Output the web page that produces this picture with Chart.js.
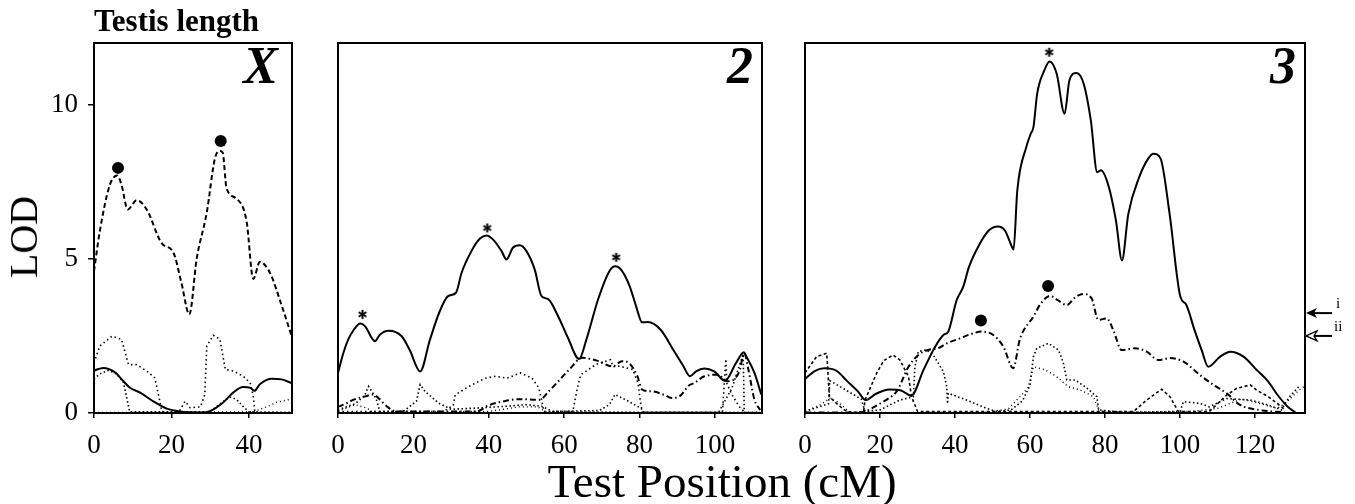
<!DOCTYPE html>
<html>
<head>
<meta charset="utf-8">
<script src="https://cdn.jsdelivr.net/npm/chart.js@4.4.0/dist/chart.umd.min.js"></script>
<style>
  html, body { margin: 0; padding: 0; background: #fff; }
  body { width: 1355px; height: 504px; position: relative; overflow: hidden;
         font-family: 'Liberation Serif', 'Times New Roman', serif; color: #000; }
  canvas { position: absolute; top: 0; }
  .t { position: absolute; white-space: nowrap; line-height: 1; }
  .pl { font-weight: bold; font-style: italic; font-size: 52px; top: 40px; }
</style>
</head>
<body>
<canvas id="cX" style="left:0px"></canvas>
<canvas id="c2" style="left:300px"></canvas>
<canvas id="c3" style="left:770px"></canvas>

<div class="t" style="left:94px; top:5px; font-weight:bold; font-size:31px;">Testis length</div>
<div class="t" style="left:24px; top:237px; font-size:40px; transform:translate(-50%,-50%) rotate(-90deg);">LOD</div>
<div class="t" style="left:722px; top:481px; font-size:47px; transform:translate(-50%,-50%);">Test Position (cM)</div>
<div class="t pl" style="right:1077px;">X</div>
<div class="t pl" style="right:602px;">2</div>
<div class="t pl" style="right:59px;">3</div>
<div class="t" style="left:1336px; top:296px; font-size:15px;">i</div>
<div class="t" style="left:1334px; top:319px; font-size:15px;">ii</div>

<script>
// LOD profiles, [cM, LOD] pairs. A = solid line,
// B = heavy dashed, C/D/E = the lighter dotted profiles.
const xA = [[0,1.38],[2.4,1.46],[5.4,1.32],[7.6,1.03],[9.3,0.82],[11.9,0.66],[15.3,0.38],[18.8,0.14],[22.2,0.05],[27.4,0.02],[29.9,0.06],[33.4,0.35],[35.9,0.66],[38.5,0.84],[40.3,0.82],[41.4,0.72],[42.8,0.93],[45.9,1.11],[48.4,1.09],[51,0.97]];
const xB = [[0,4.6],[1.5,5.9],[4.1,7.4],[6,7.7],[7.1,7.4],[8.7,6.6],[11,6.9],[13.6,6.6],[17.5,5.5],[20.5,5.2],[22.6,4.2],[24.6,3.2],[26.5,5.0],[29.1,6.5],[31.2,8.25],[32.5,8.5],[33.2,8.45],[34.2,7.3],[36.8,6.95],[39.4,6.2],[41.1,4.35],[42.8,4.9],[45.4,4.55],[48.4,3.5],[51,2.5]];
const xC = [[0,1.63],[1.5,2.17],[4.6,2.49],[7.1,2.39],[8.9,1.57],[11,1.57],[13.6,1.36],[15.7,1.14],[17,0.38],[17.5,0.05],[19,0.02],[22,0.05],[23.5,0.38],[24.8,0.17],[27.5,0.2],[28.6,0.6],[29.1,2.17],[30.8,2.52],[32.5,2.39],[33.9,1.41],[36,1.36],[38.5,1.19],[40.3,0.98],[41.1,0.55],[41.5,0.05]];
const xD = [[0,1.1],[1.5,1.27],[3.7,1.38],[5.8,1.27],[7.6,1.0],[8.5,0.46],[9.2,0.04],[29.9,0.04],[33.4,0.38],[35,0.52],[36.8,0.44],[38.8,0.17],[40,0.04],[51,0.02]];
const xE = [[0,0.02],[20,0.02],[41.5,0.04],[42.8,0.12],[45,0.22],[47.1,0.35],[51,0.45]];

const c2A = [[0,1.3],[1.4,1.94],[2.7,2.38],[4.2,2.7],[5.9,2.9],[7.2,2.81],[9.8,2.33],[11.1,2.54],[13.4,2.67],[16.9,2.49],[19,2.05],[21.8,1.35],[24.4,2.38],[27,3.3],[29.2,3.79],[31.3,3.9],[32.8,4.55],[35.4,5.25],[37.6,5.65],[39.4,5.76],[41.1,5.63],[43.4,5.25],[44.7,4.98],[46.4,5.36],[48.2,5.44],[50,5.25],[52.2,4.65],[54,3.79],[55.7,3.7],[58.4,3.14],[61,2.44],[64,1.75],[65.9,2.38],[69,3.68],[72,4.6],[73.6,4.76],[75.1,4.65],[77.4,4.11],[79.1,3.46],[80.7,2.94],[82.2,2.95],[85.6,2.7],[89.2,2.0],[91.5,1.55],[93.4,1.19],[95,1.35],[97.2,1.44],[99.8,1.35],[102.7,1.05],[105.6,1.62],[107.7,1.97],[108.3,1.85],[110.5,1.3],[112.3,0.6]];
const c2B = [[0,0.2],[2,0.3],[4.1,0.43],[7.2,0.54],[9.4,0.6],[11,0.45],[12.9,0.22],[15.5,0.05],[36.7,0.05],[40,0.25],[44,0.38],[48.2,0.45],[53.5,0.43],[55.9,0.7],[58,0.97],[61.3,1.4],[64.8,1.79],[69.2,1.68],[72.8,1.51],[75.4,1.68],[77.2,1.62],[79.4,1.21],[80.7,0.76],[83.4,0.7],[86.5,0.59],[88.5,0.49],[90.6,0.54],[93.2,0.9],[94.5,0.97],[97.2,1.19],[100.7,1.24],[103.4,1.03],[106.5,1.35],[107.8,1.95],[108.9,1.4],[110.5,0.43],[112,0.1]];
const c2C = [[0,0.05],[28,0.05],[30.6,0.25],[31.1,0.59],[34.7,0.86],[39.1,1.13],[41.8,1.19],[44.9,1.13],[48.4,1.3],[51.5,1.13],[53.3,0.81],[54.2,0.32],[54.6,0.05],[62.3,0.05],[63.5,0.8],[64.4,1.24],[68.4,1.57],[72.3,1.73],[73,1.5],[74.7,1.52],[78.2,1.41],[79.6,0.97],[80.4,0.22],[81,0.02],[102,0.02],[102.9,1.75],[103.2,0.95],[104.5,0.6],[106.5,0.2],[108,0.02]];
const c2D = [[0,0.1],[4.5,0.3],[7,0.55],[8.1,0.86],[9,0.7],[10.2,0.43],[11.1,0.05],[17.3,0.05],[20.8,0.38],[21.8,0.92],[23.1,0.7],[26.7,0.32],[30,0.12],[36.7,0.16],[44.7,0.22],[50,0.27],[54,0.22],[57,0.05],[69.4,0.08],[72,0.27],[73.5,0.6],[76.3,0.43],[80.3,0.16],[81.3,0.02],[101,0.02],[104.5,0.8],[107.5,1.9],[107.8,0.02],[112,0.02]];
const c2E = [[0,0.05],[4.5,0.27],[7.7,0.16],[9,0.05],[40,0.05],[44,0.12],[48,0.2],[53,0.2],[55,0.05],[112,0.02]];

const c3A = [[0,1.1],[2.7,1.37],[5.2,1.45],[8.4,1.37],[11.1,1.05],[14.1,0.7],[16.2,0.42],[18.9,0.62],[22.5,0.76],[25.6,0.73],[28.3,0.56],[31.6,1.4],[34.7,2.15],[36.9,2.53],[38.2,2.64],[40.4,3.65],[42.2,4.1],[43.7,4.73],[46.6,5.49],[49,5.92],[51.4,6.05],[53.3,5.92],[55.2,5.38],[55.6,5.3],[56.6,7.22],[59,8.63],[60.2,9.06],[60.9,9.27],[61.9,10.36],[63.8,11.11],[65.2,11.4],[67.1,11.0],[69.2,9.71],[70.5,10.79],[72.4,11.03],[74.3,10.68],[76.2,9.49],[77.9,7.81],[78.9,7.87],[81,7.33],[82.9,6.24],[84.5,4.95],[86.2,6.46],[89.1,7.65],[91.5,8.25],[92.9,8.41],[94.8,8.25],[97.2,6.46],[100.1,3.76],[101.5,3.54],[103.9,2.67],[105.8,2.02],[107.5,1.5],[110.7,1.83],[113.4,1.99],[116.9,1.83],[120.4,1.4],[123.5,1.02],[125.9,0.6],[128.7,0.2],[130.7,0.02]];
const c3B = [[0,0.02],[14,0.02],[16,0.05],[19.9,0.3],[22,0.45],[24.6,0.73],[27.5,1.48],[30.4,1.9],[33,2.05],[35.5,2.1],[37.8,2.26],[41.3,2.42],[44,2.55],[47.1,2.64],[50.2,2.53],[52.9,2.15],[55.5,1.45],[57.3,2.4],[60.9,3.13],[62.8,3.54],[65.3,3.8],[67.5,3.65],[69.8,3.5],[72,3.75],[74.2,3.86],[76.4,3.72],[78.2,3.02],[80.4,3.07],[82.2,2.69],[84.4,2.04],[88,2.1],[91.1,1.99],[94.2,1.72],[97.3,1.78],[100.9,1.67],[105.3,1.23],[108.9,0.91],[112.4,0.64],[116,0.26],[121,0.1],[127.8,0.02]];
const c3C = [[0,1.3],[3.1,1.83],[5.8,1.94],[6.5,0.53],[8.4,0.31],[10.5,0.1],[12.2,0.02],[15.6,0.02],[16,0.42],[19.1,1.29],[21,1.7],[23.5,1.88],[25.3,1.72],[27.6,1.18],[28.4,0.53],[30,0.05],[87.6,0.05],[91.1,0.42],[95.1,0.77],[97.3,0.53],[99.5,0.05],[107.8,0.05],[112.4,0.58],[115.1,0.8],[118.7,0.91],[120.4,0.74],[123.5,0.53],[126,0.3],[128,0.1]];
const c3D = [[0,0.05],[6.3,0.3],[6.6,1.05],[11.1,0.73],[15,0.45],[16,0.05],[20,0.1],[25.3,0.42],[28.9,0.53],[29.3,1.5],[30.2,1.99],[32.4,2.05],[34.2,1.88],[36.9,1.34],[37.8,0.85],[38,0.3],[38.2,0.64],[43.1,0.42],[48.4,0.15],[51,0.05],[55,0.1],[58,0.4],[60,0.9],[60.9,1.83],[61.8,2.1],[64.9,2.26],[67.6,2.04],[68.9,1.61],[69.8,1.07],[72,1.07],[74.7,0.85],[77.8,0.53],[78.3,0.1],[85,0.02],[100,0.05],[100.9,0.37],[105.3,0.31],[107.8,0.2],[112.4,0.47],[118.7,0.42],[123.5,0.26],[127,0.1],[129,0.5],[132,0.9]];
const c3E = [[0,0.05],[4,0.26],[6.7,0.48],[9.3,0.31],[12,0.02],[48,0.02],[54.2,0.13],[58,0.62],[59.5,0.83],[60.9,1.5],[64,1.4],[67.1,1.18],[70.2,0.85],[73.3,0.75],[76.9,0.53],[78.3,0.1],[80,0.02],[103,0.05],[110,0.15],[116.3,0.45],[120,0.35],[125.9,0.15],[127.8,0.29],[131.6,0.73],[133,0.85]];

// peak markers
const xDots = [[6.2,7.95],[32.7,8.82]];
const c2Stars = [[6.5,3.2],[39.6,6.0],[73.8,5.05]];
const c3Stars = [[65.1,11.7]];
const c3Dots = [[46.9,3.0],[64.8,4.12]];

// significance thresholds (arrows i, ii)
const thresholds = [{ lod: 3.24, open: false }, { lod: 2.5, open: true }];

// axes
const yTicks = [0, 5, 10];
const xTicksX = [0, 20, 40];
const xTicks2 = [0, 20, 40, 60, 80, 100];
const xTicks3 = [0, 20, 40, 60, 80, 100, 120];

const FONT = "'Liberation Serif', 'Times New Roman', serif";
const pts = (arr) => arr.map(([x, y]) => ({ x, y }));

const STYLE = {
  A: { borderWidth: 2, borderDash: [], cubicInterpolationMode: 'monotone' },
  B: { borderWidth: 2, borderDash: [5, 3], cubicInterpolationMode: 'monotone' },
  Bd: { borderWidth: 2, borderDash: [6, 3, 1.5, 3], cubicInterpolationMode: 'monotone' },
  C: { borderWidth: 1.6, borderDash: [1.5, 3], tension: 0 },
  Cs: { borderWidth: 1.6, borderDash: [3, 2.5], tension: 0 },
  D: { borderWidth: 1.6, borderDash: [1.5, 2.5], tension: 0 },
  E: { borderWidth: 1.4, borderDash: [1, 3], tension: 0 },
};

// six-armed asterisk used as a point style
function asterisk(size) {
  const c = document.createElement('canvas');
  c.width = c.height = size;
  const g = c.getContext('2d');
  g.strokeStyle = '#000';
  g.lineWidth = 2;
  const m = size / 2, r = size / 2 - 1;
  for (let k = 0; k < 3; k++) {
    const a = Math.PI / 2 + k * Math.PI / 3;
    g.beginPath();
    g.moveTo(m + r * Math.cos(a), m + r * Math.sin(a));
    g.lineTo(m - r * Math.cos(a), m - r * Math.sin(a));
    g.stroke();
  }
  return c;
}
const STAR = asterisk(11);

function line(data, style) {
  return { type: 'line', data: pts(data), borderColor: '#000', pointRadius: 0, fill: false, ...STYLE[style] };
}
function marks(data, shape) {
  const star = shape === 'star';
  return {
    type: 'scatter', data: pts(data), showLine: false,
    pointStyle: star ? STAR : 'circle', pointRadius: 6,
    borderColor: '#000', backgroundColor: '#000', borderWidth: 0,
  };
}

const frame = {
  id: 'frame',
  afterDraw(chart) {
    const { ctx, chartArea: a } = chart;
    ctx.save();
    ctx.strokeStyle = '#000';
    ctx.lineWidth = 2;
    ctx.strokeRect(a.left, a.top, a.right - a.left, a.bottom - a.top);
    ctx.restore();
  },
};

// threshold arrows drawn just outside the right edge of chromosome 3
const arrows = {
  id: 'arrows',
  afterDraw(chart) {
    const { ctx, chartArea: a, scales: { y } } = chart;
    ctx.save();
    ctx.strokeStyle = '#000';
    ctx.fillStyle = '#000';
    for (const t of thresholds) {
      const py = y.getPixelForValue(t.lod);
      const x0 = a.right + 1;
      ctx.lineWidth = 2;
      ctx.beginPath();
      ctx.moveTo(x0 + 6, py);
      ctx.lineTo(x0 + 26, py);
      ctx.stroke();
      ctx.beginPath();
      ctx.moveTo(x0, py);
      ctx.lineTo(x0 + 11, py - 5);
      ctx.lineTo(x0 + 8, py);
      ctx.lineTo(x0 + 11, py + 5);
      ctx.closePath();
      if (t.open) {
        ctx.lineWidth = 1.3;
        ctx.fillStyle = '#fff';
        ctx.fill();
        ctx.stroke();
        ctx.fillStyle = '#000';
      } else {
        ctx.fill();
      }
    }
    ctx.restore();
  },
};

function panel(id, w, yWidth, padRight, maxX, xTicks, datasets, showY, extra) {
  const cv = document.getElementById(id);
  cv.width = w; cv.height = 470;
  cv.style.width = w + 'px'; cv.style.height = '470px';
  const tickFont = { family: FONT, size: 27 };
  return new Chart(cv, {
    data: { datasets },
    options: {
      responsive: false,
      animation: false,
      events: [],
      layout: { padding: { top: 43, right: padRight, left: 0, bottom: 0 } },
      plugins: { legend: { display: false }, tooltip: { enabled: false } },
      scales: {
        x: {
          type: 'linear', min: 0, max: maxX,
          afterBuildTicks: (ax) => { ax.ticks = xTicks.map((v) => ({ value: v })); },
          afterFit: (ax) => { ax.height = 57; },
          border: { display: false },
          grid: { drawOnChartArea: false, drawTicks: true, tickLength: 5, color: '#000', lineWidth: 1.5 },
          ticks: { color: '#000', font: tickFont, padding: 12, maxRotation: 0, autoSkip: false },
        },
        y: {
          type: 'linear', min: 0, max: 12,
          afterBuildTicks: (ax) => { ax.ticks = yTicks.map((v) => ({ value: v })); },
          afterFit: (ax) => { ax.width = yWidth; },
          border: { display: false },
          grid: { display: showY, drawOnChartArea: false, drawTicks: true, tickLength: 6, color: '#000', lineWidth: 1.5 },
          ticks: { display: showY, color: '#000', font: tickFont, padding: 10 },
        },
      },
    },
    plugins: [frame, ...(extra || [])],
  });
}

panel('cX', 300, 94, 8, 51.1, xTicksX, [
  line(xE, 'E'), line(xD, 'D'), line(xC, 'C'), line(xA, 'A'), line(xB, 'B'), marks(xDots, 'circle'),
], true);

panel('c2', 470, 38, 8, 112.5, xTicks2, [
  line(c2E, 'E'), line(c2D, 'D'), line(c2C, 'C'), line(c2B, 'Bd'), line(c2A, 'A'), marks(c2Stars, 'star'),
], false);

panel('c3', 585, 35, 50, 133.3, xTicks3, [
  line(c3E, 'E'), line(c3D, 'D'), line(c3C, 'Cs'), line(c3B, 'Bd'), line(c3A, 'A'),
  marks(c3Stars, 'star'), marks(c3Dots, 'circle'),
], false, [arrows]);
</script>
</body>
</html>
